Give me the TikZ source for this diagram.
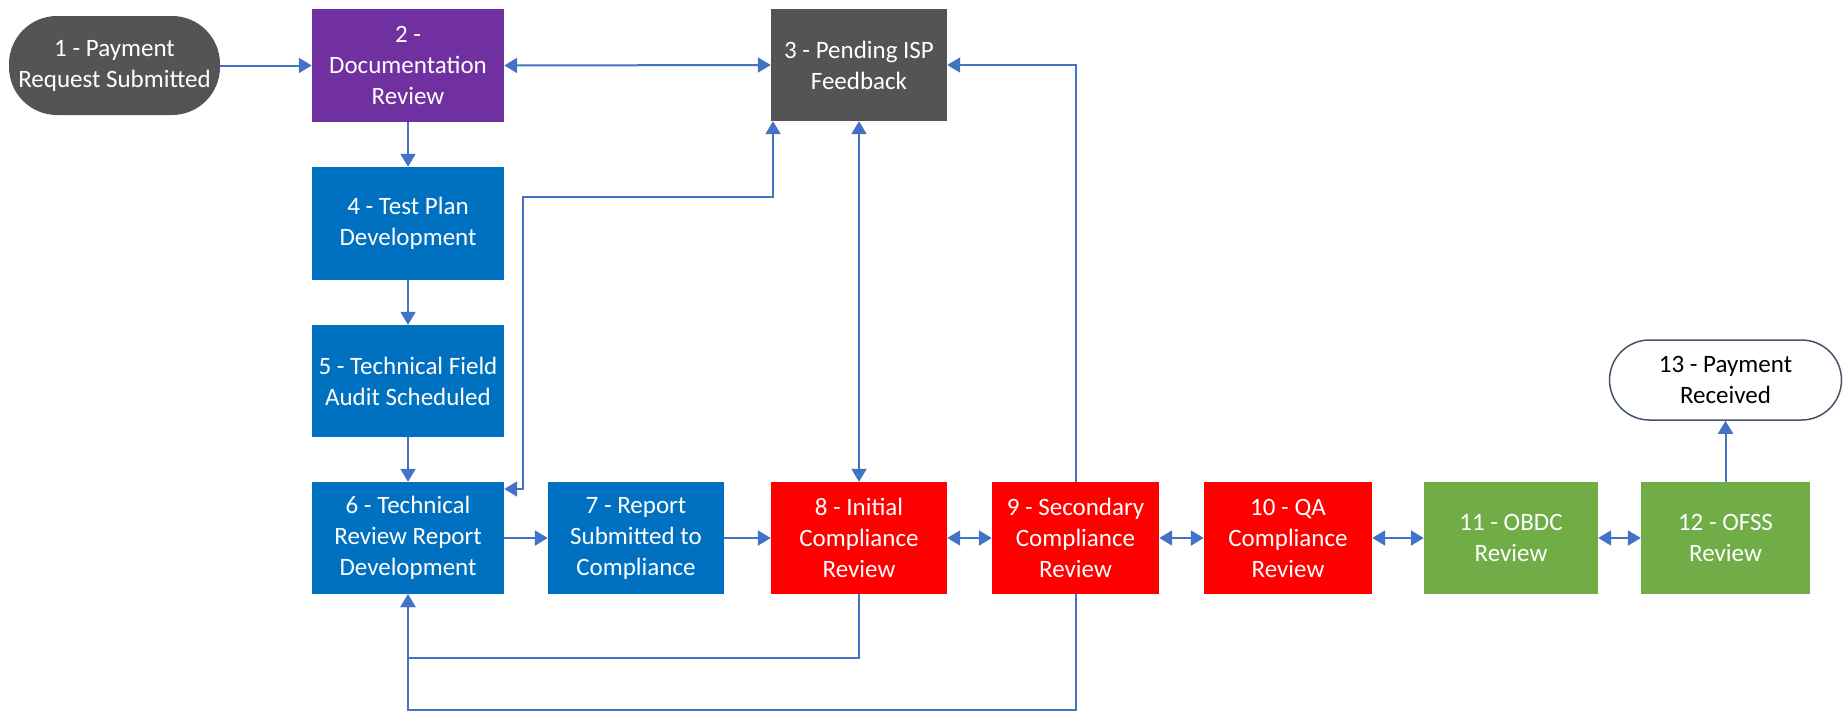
\documentclass[tikz,border=0pt]{standalone}
\usepackage{fontspec}
\setmainfont{Carlito}
\usetikzlibrary{arrows.meta,positioning}
\definecolor{cgray}{HTML}{545454}
\definecolor{cpurple}{HTML}{7030A0}
\definecolor{cblue}{HTML}{0070C0}
\definecolor{cred}{HTML}{FF0000}
\definecolor{cgreen}{HTML}{70AD47}
\definecolor{carrow}{HTML}{4472C4}
\definecolor{cborder}{HTML}{44546A}
\begin{document}
\begin{tikzpicture}[x=1pt,y=-1pt,
  box/.style={rectangle, draw=none, text=white, align=center, inner sep=2pt,
    font=\fontsize{25}{31}\selectfont},
  pill/.style={box, rounded corners=48pt},
  arr/.style={draw=carrow, line width=2pt, -{Triangle[width=15pt,length=13pt]}},
  darr/.style={draw=carrow, line width=2pt, {Triangle[width=15pt,length=13pt]}-{Triangle[width=15pt,length=13pt]}},
  line/.style={draw=carrow, line width=2pt}
]
\useasboundingbox (0,0) rectangle (1845,712);
\fill[white] (0,0) rectangle (1845,712);

% nodes
\node[pill, fill=cgray, minimum width=211pt, minimum height=99pt] (n1) at (114.5,65.5) {1 - Payment\\Request Submitted};
\node[box, fill=cpurple, minimum width=192pt, minimum height=113pt] (n2) at (408,65.5) {2 -\\Documentation\\Review};
\node[box, fill=cgray, minimum width=176pt, minimum height=112pt] (n3) at (859,65) {3 - Pending ISP\\Feedback};
\node[box, fill=cblue, minimum width=192pt, minimum height=113pt] (n4) at (408,223.5) {4 - Test Plan\\Development};
\node[box, fill=cblue, minimum width=192pt, minimum height=112pt] (n5) at (408,381) {5 - Technical Field\\Audit Scheduled};
\node[box, fill=cblue, minimum width=192pt, minimum height=112pt] (n6) at (408,538) {6 - Technical\\Review Report\\Development};
\node[box, fill=cblue, minimum width=176pt, minimum height=112pt] (n7) at (636,538) {7 - Report\\Submitted to\\Compliance};
\node[box, fill=cred, minimum width=176pt, minimum height=112pt] (n8) at (859,538) {8 - Initial\\Compliance\\Review};
\node[box, fill=cred, minimum width=167pt, minimum height=112pt] (n9) at (1075.5,538) {9 - Secondary\\Compliance\\Review};
\node[box, fill=cred, minimum width=168pt, minimum height=112pt] (n10) at (1288,538) {10 - QA\\Compliance\\Review};
\node[box, fill=cgreen, minimum width=174pt, minimum height=112pt] (n11) at (1511,538) {11 - OBDC\\Review};
\node[box, fill=cgreen, minimum width=169pt, minimum height=112pt] (n12) at (1725.5,538) {12 - OFSS\\Review};
\node[pill, fill=white, draw=cborder, line width=1.5pt, text=black, minimum width=232pt, minimum height=80pt, rounded corners=40pt] (n13) at (1725.5,380) {13 - Payment\\Received};

% helper coordinates
\coordinate (c3a) at (773,197);
\coordinate (c3b) at (523,197);
\coordinate (c3c) at (523,489);
\coordinate (c8) at (859,658);
\coordinate (c9) at (1075.5,710);

% connectors
\draw[arr] (n1.east) -- (n2.west);
\draw[darr] (n2.east) -- (n3.west);
\draw[arr] (n2.south) -- (n4.north);
\draw[arr] (n4.south) -- (n5.north);
\draw[arr] (n5.south) -- (n6.north);
\draw[darr] (n3.south west -| c3a) -- (c3a) -- (c3b) -- (c3c) -- (n6.east |- c3c);
\draw[darr] (n3.south) -- (n8.north);
\draw[arr] (n9.north) |- (n3.east);
\draw[arr] (n8.south) -- (c8) -| (n6.south);
\draw[arr] (n9.south) -- (c9) -| (n6.south);
\draw[arr] (n6.east) -- (n7.west);
\draw[arr] (n7.east) -- (n8.west);
\draw[darr] (n8.east) -- (n9.west);
\draw[darr] (n9.east) -- (n10.west);
\draw[darr] (n10.east) -- (n11.west);
\draw[darr] (n11.east) -- (n12.west);
\draw[arr] (n12.north) -- (n13.south);
\end{tikzpicture}
\end{document}
